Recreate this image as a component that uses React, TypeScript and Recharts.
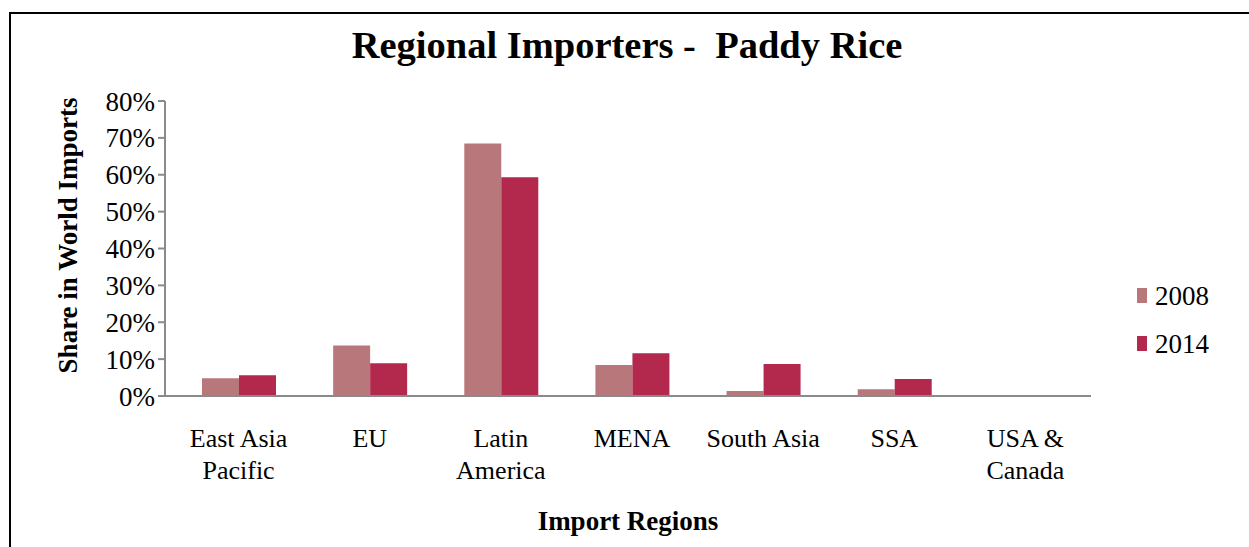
import React from 'react';
import { BarChart, Bar, XAxis, YAxis, Label } from 'recharts';

const categories = ["East Asia Pacific", "EU", "Latin America", "MENA", "South Asia", "SSA", "USA & Canada"];
const tickLabels = [["East Asia", "Pacific"], ["EU"], ["Latin", "America"], ["MENA"], ["South Asia"], ["SSA"], ["USA &", "Canada"]];
const share2008 = [4.8, 13.7, 68.5, 8.4, 1.35, 1.8, 0];
const share2014 = [5.6, 8.9, 59.3, 11.6, 8.7, 4.6, 0];
const yTicks = [0, 10, 20, 30, 40, 50, 60, 70, 80];
const seriesKeys = ["y2008", "y2014"];
const seriesNames = ["2008", "2014"];
const seriesColors = ["#B8777A", "#B3284D"];

const data = categories.map((c, i) => ({ region: c, y2008: share2008[i], y2014: share2014[i] }));

const FONT = '"Liberation Serif", "Times New Roman", serif';
const AXIS = '#8a8a8a';

const XTick = (props: any) => {
  const { x, y, payload } = props;
  const idx = categories.indexOf(payload.value);
  const lines = idx >= 0 ? tickLabels[idx] : [String(payload.value)];
  return (
    <text x={x} y={y} textAnchor="middle" fontFamily={FONT} fontSize={26} fill="#000">
      {lines.map((l, i) => (
        <tspan key={i} x={x} y={y + 51 + i * 32}>{l}</tspan>
      ))}
    </text>
  );
};

const YLabel = (props: any) => {
  const vb = props.viewBox || { x: 0, y: 101, width: 165, height: 295 };
  const cx = vb.x + 68;
  const cy = vb.y + vb.height / 2 - 13;
  return (
    <text x={cx} y={cy} transform={`rotate(-90, ${cx}, ${cy})`} textAnchor="middle" dy="0.35em"
      fontFamily={FONT} fontSize={27} fontWeight="bold" fill="#000">
      Share in World Imports
    </text>
  );
};

const XLabel = (props: any) => {
  const vb = props.viewBox || { x: 165, y: 396, width: 926, height: 134 };
  const cx = vb.x + vb.width / 2;
  const cy = vb.y + vb.height;
  return (
    <text x={cx} y={cy} textAnchor="middle" fontFamily={FONT} fontSize={27} fontWeight="bold" fill="#000">
      Import Regions
    </text>
  );
};

export default function App() {
  return (
    <div style={{ position: 'absolute', left: 0, top: 0, width: 1249, height: 547, overflow: 'hidden', background: '#fff' }}>
      <div style={{ position: 'absolute', left: 9, top: 12, width: 1300, height: 600, borderTop: '2px solid #000', borderLeft: '2px solid #000' }} />
      <div style={{ position: 'absolute', left: 0, top: 0 }}>
        <BarChart width={1249} height={547} data={data} barGap={0} barSize={37}
          margin={{ top: 101, right: 158, bottom: 17, left: 0 }}>
          <XAxis dataKey="region" height={134} tickLine={false} tickSize={0} tickMargin={0}
            axisLine={{ stroke: AXIS, strokeWidth: 2 }} tick={<XTick />} interval={0}
            padding={{ left: 8, right: 0 }}>
            <Label content={<XLabel />} />
          </XAxis>
          <YAxis width={165} domain={[0, 80]} ticks={yTicks} tickFormatter={(v: number) => `${v}%`}
            tickSize={7} tickMargin={3} axisLine={{ stroke: AXIS, strokeWidth: 2 }}
            tickLine={{ stroke: AXIS, strokeWidth: 2 }}
            tick={{ fontFamily: FONT, fontSize: 27, fill: '#000' }} interval={0}>
            <Label content={<YLabel />} />
          </YAxis>
          {seriesKeys.map((k, i) => (
            <Bar key={k} dataKey={k} name={seriesNames[i]} fill={seriesColors[i]} isAnimationActive={false} />
          ))}
        </BarChart>
      </div>
      <svg width={1249} height={547} style={{ position: 'absolute', left: 0, top: 0, pointerEvents: 'none' }}>
        <text x={627} y={58} textAnchor="middle" fontFamily={FONT} fontSize={38.5} fontWeight="bold" fill="#000"
          style={{ whiteSpace: 'pre' }}>
          {'Regional Importers -  Paddy Rice'}
        </text>
        {seriesNames.map((n, i) => (
          <g key={n}>
            <rect x={1137} y={288 + i * 48} width={10} height={15} fill={seriesColors[i]} />
            <text x={1155} y={305 + i * 48} fontFamily={FONT} fontSize={27} fill="#000">{n}</text>
          </g>
        ))}
      </svg>
    </div>
  );
}
